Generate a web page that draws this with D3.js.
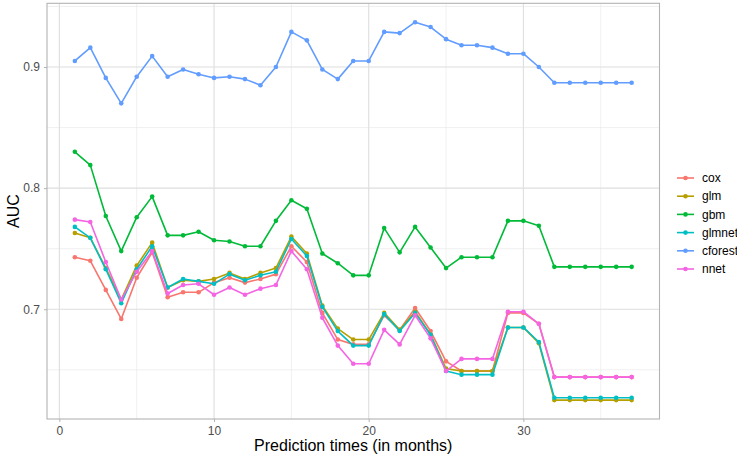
<!DOCTYPE html>
<html>
<head>
<meta charset="utf-8">
<script src="https://cdn.jsdelivr.net/npm/d3@7"></script>
<style>
  body { margin: 0; background: #fff; }
  svg { display: block; font-family: "Liberation Sans", Arial, sans-serif; }
</style>
</head>
<body>
<svg id="chart" width="737" height="456"></svg>
<script>
// Prediction horizon (months) and AUC per model
const months = d3.range(1, 38);
const models = ["cox", "glm", "gbm", "glmnet", "cforest", "nnet"];
const colors = ["#F8766D", "#B79F00", "#00BA38", "#00BFC4", "#619CFF", "#F564E3"];

const cox = [0.743,0.740,0.716,0.692,0.726,0.747,0.710,0.714,0.714,0.722,0.726,0.722,0.725,0.729,0.752,0.739,0.697,0.675,0.671,0.671,0.695,0.683,0.701,0.682,0.657,0.649,0.649,0.649,0.697,0.697,0.688,0.644,0.644,0.644,0.644,0.644,0.644];
const glm = [0.763,0.759,0.734,0.708,0.736,0.755,0.718,0.724,0.723,0.725,0.730,0.725,0.730,0.734,0.760,0.746,0.703,0.684,0.675,0.675,0.697,0.683,0.698,0.679,0.651,0.649,0.649,0.649,0.685,0.685,0.672,0.625,0.625,0.625,0.625,0.625,0.625];
const gbm = [0.830,0.819,0.777,0.748,0.776,0.793,0.761,0.761,0.764,0.757,0.756,0.752,0.752,0.773,0.790,0.783,0.746,0.738,0.728,0.728,0.767,0.747,0.768,0.751,0.734,0.743,0.743,0.743,0.773,0.773,0.769,0.735,0.735,0.735,0.735,0.735,0.735];
const glmnet = [0.768,0.759,0.733,0.705,0.733,0.752,0.718,0.725,0.723,0.721,0.729,0.724,0.728,0.731,0.758,0.744,0.702,0.682,0.670,0.670,0.696,0.682,0.697,0.679,0.649,0.646,0.646,0.646,0.685,0.685,0.673,0.627,0.627,0.627,0.627,0.627,0.627];
const cforest = [0.905,0.916,0.891,0.870,0.892,0.909,0.892,0.898,0.894,0.891,0.892,0.890,0.885,0.900,0.929,0.922,0.898,0.890,0.905,0.905,0.929,0.928,0.937,0.933,0.923,0.918,0.918,0.916,0.911,0.911,0.900,0.887,0.887,0.887,0.887,0.887,0.887];
const nnet = [0.774,0.772,0.739,0.708,0.731,0.748,0.713,0.720,0.721,0.712,0.718,0.712,0.717,0.720,0.748,0.733,0.693,0.670,0.655,0.655,0.683,0.671,0.695,0.676,0.649,0.659,0.659,0.659,0.698,0.698,0.688,0.644,0.644,0.644,0.644,0.644,0.644];

const xTicks = [0, 10, 20, 30];
const xMinor = [5, 15, 25, 35];
const yTicks = [0.7, 0.8, 0.9];
const yMinor = [0.65, 0.75, 0.85, 0.95];

const seriesValues = [cox, glm, gbm, glmnet, cforest, nnet];
const series = models.map((name, i) => ({
  name, color: colors[i],
  points: months.map((m, j) => ({ x: m, y: seriesValues[i][j] }))
}));

const panel = { left: 47, right: 659.5, top: 3.3, bottom: 419 };

// Axis limits padded by 5% of the data range on each side
const xExt = d3.extent(months);
const xPad = (xExt[1] - xExt[0]) * 0.05;
const yAll = seriesValues.flat();
const yExt = d3.extent(yAll);
const yPad = (yExt[1] - yExt[0]) * 0.05;

const x = d3.scaleLinear().domain([xExt[0] - xPad, xExt[1] + xPad]).range([panel.left, panel.right]);
const y = d3.scaleLinear().domain([yExt[0] - yPad, yExt[1] + yPad]).range([panel.bottom, panel.top]);

const svg = d3.select("#chart");

// Grid lines
const grid = svg.append("g");
grid.selectAll(".ymin").data(yMinor.filter(v => y(v) > panel.top)).join("line")
  .attr("x1", panel.left).attr("x2", panel.right)
  .attr("y1", d => y(d)).attr("y2", d => y(d))
  .attr("stroke", "#E6E6E6").attr("stroke-width", 0.6);
grid.selectAll(".xmin").data(xMinor).join("line")
  .attr("y1", panel.top).attr("y2", panel.bottom)
  .attr("x1", d => x(d)).attr("x2", d => x(d))
  .attr("stroke", "#E6E6E6").attr("stroke-width", 0.6);
grid.selectAll(".ymaj").data(yTicks).join("line")
  .attr("x1", panel.left).attr("x2", panel.right)
  .attr("y1", d => y(d)).attr("y2", d => y(d))
  .attr("stroke", "#DEDEDE").attr("stroke-width", 1.1);
grid.selectAll(".xmaj").data(xTicks).join("line")
  .attr("y1", panel.top).attr("y2", panel.bottom)
  .attr("x1", d => x(d)).attr("x2", d => x(d))
  .attr("stroke", "#DEDEDE").attr("stroke-width", 1.1);

// Series lines and points
const line = d3.line().x(d => x(d.x)).y(d => y(d.y));
const sg = svg.append("g");
series.forEach(s => {
  sg.append("path").datum(s.points)
    .attr("d", line).attr("fill", "none")
    .attr("stroke", s.color).attr("stroke-width", 1.6)
    .attr("stroke-linejoin", "round");
  sg.append("g").selectAll("circle").data(s.points).join("circle")
    .attr("cx", d => x(d.x)).attr("cy", d => y(d.y)).attr("r", 2.3)
    .attr("fill", s.color);
});

// Panel border
svg.append("rect")
  .attr("x", panel.left).attr("y", panel.top)
  .attr("width", panel.right - panel.left).attr("height", panel.bottom - panel.top)
  .attr("fill", "none").attr("stroke", "#B3B3B3").attr("stroke-width", 1.1);

// Axes
const xAxis = svg.append("g").attr("transform", `translate(0,${panel.bottom})`)
  .call(d3.axisBottom(x).tickValues(xTicks).tickSize(3).tickPadding(4).tickFormat(d3.format("d")));
const yAxis = svg.append("g").attr("transform", `translate(${panel.left},0)`)
  .call(d3.axisLeft(y).tickValues(yTicks).tickSize(3).tickPadding(4).tickFormat(d3.format(".1f")));
[xAxis, yAxis].forEach(a => {
  a.select(".domain").remove();
  a.selectAll(".tick line").attr("stroke", "#B3B3B3");
  a.selectAll(".tick text").attr("fill", "#4D4D4D").style("font-size", "12px")
    .style("font-family", "'Liberation Sans', Arial, sans-serif");
});

// Axis titles
svg.append("text").attr("x", (panel.left + panel.right) / 2).attr("y", 451)
  .attr("text-anchor", "middle").style("font-size", "16px").attr("fill", "#000")
  .text("Prediction times (in months)");
svg.append("text").attr("transform", `translate(19,${(panel.top + panel.bottom) / 2}) rotate(-90)`)
  .attr("text-anchor", "middle").style("font-size", "16px").attr("fill", "#000")
  .text("AUC");

// Legend
const legend = svg.append("g").attr("transform", "translate(677,178)");
const rows = legend.selectAll("g").data(series).join("g")
  .attr("transform", (d, i) => `translate(0,${i * 18.2})`);
rows.append("line").attr("x1", 0).attr("x2", 17).attr("y1", 0).attr("y2", 0)
  .attr("stroke", d => d.color).attr("stroke-width", 1.6);
rows.append("circle").attr("cx", 8.5).attr("cy", 0).attr("r", 2.3).attr("fill", d => d.color);
rows.append("text").attr("x", 25).attr("y", 0).attr("dy", "0.35em")
  .style("font-size", "12px").attr("fill", "#000").text(d => d.name);
</script>
</body>
</html>
